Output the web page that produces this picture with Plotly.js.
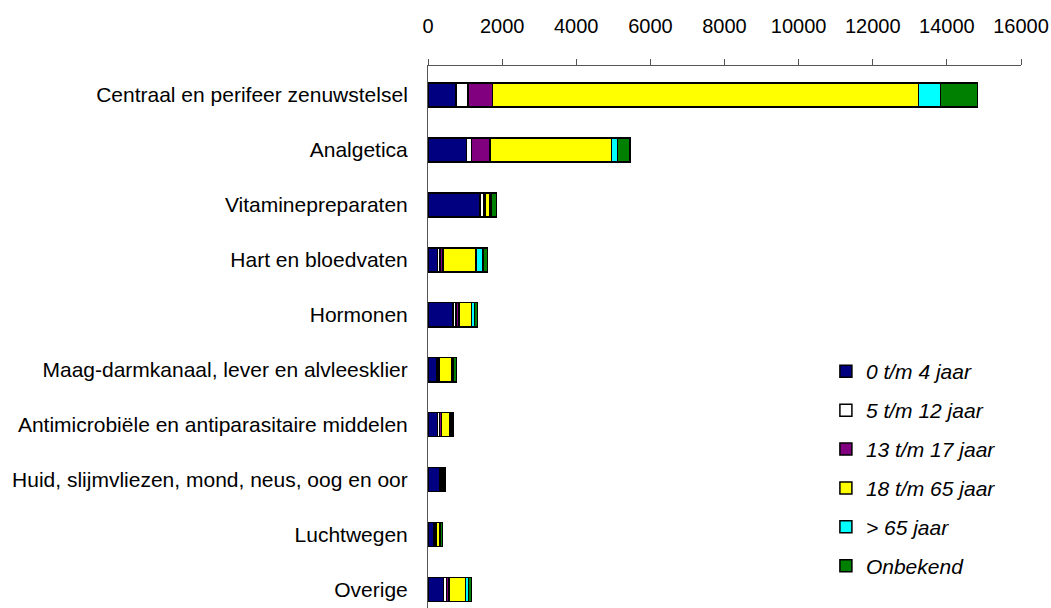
<!DOCTYPE html>
<html>
<head>
<meta charset="utf-8">
<script src="https://cdn.plot.ly/plotly-3.0.1.min.js"></script>
<style>html,body{margin:0;padding:0;background:#fff;}#chart{width:1051px;height:608px;}</style>
</head>
<body>
<div id="chart"></div>
<script>
const categories = [
  "Centraal en perifeer zenuwstelsel",
  "Analgetica",
  "Vitaminepreparaten",
  "Hart en bloedvaten",
  "Hormonen",
  "Maag-darmkanaal, lever en alvleesklier",
  "Antimicrobiële en antiparasitaire middelen",
  "Huid, slijmvliezen, mond, neus, oog en oor",
  "Luchtwegen",
  "Overige"
];
const seriesNames = ["0 t/m 4 jaar", "5 t/m 12 jaar", "13 t/m 17 jaar", "18 t/m 65 jaar", "> 65 jaar", "Onbekend"];
const age0to4   = [760, 1035, 1400, 260, 680, 240, 260, 330, 150, 420];
const age5to12  = [320, 145, 110, 60, 80, 30, 50, 50, 30, 80];
const age13to17 = [655, 495, 30, 80, 70, 40, 50, 20, 30, 70];
const age18to65 = [11500, 3280, 135, 900, 350, 330, 230, 40, 100, 440];
const age65plus = [595, 155, 20, 190, 80, 40, 30, 10, 20, 80];
const unknown   = [1000, 340, 150, 110, 80, 90, 60, 20, 60, 80];
const tickValues = [0, 2000, 4000, 6000, 8000, 10000, 12000, 14000, 16000];

const seriesValues = [age0to4, age5to12, age13to17, age18to65, age65plus, unknown];
const colors = ["#000080", "#ffffff", "#800080", "#ffff00", "#00ffff", "#008000"];

const FONT = "Liberation Sans, Arial, sans-serif";
const traces = seriesValues.map((vals, i) => ({
  type: "bar",
  orientation: "h",
  name: seriesNames[i],
  y: categories,
  x: vals,
  legendgroup: "g" + i,
  marker: {color: colors[i], line: {color: "#000000", width: 1.5}},
  hoverinfo: "x+name"
}));

const layout = {
  width: 1051, height: 608,
  margin: {l: 428, r: 30, t: 66, b: 0, pad: 0},
  paper_bgcolor: "#ffffff",
  plot_bgcolor: "#ffffff",
  barmode: "stack",
  bargap: 0.56,
  font: {family: FONT, size: 20, color: "#000000"},
  xaxis: {
    side: "top",
    range: [0, 16000],
    tickvals: tickValues,
    ticktext: tickValues.map(String),
    ticks: "outside", ticklen: 6, tickcolor: "#555555", tickwidth: 1,
    ticklabelstandoff: 18,
    showline: true, linecolor: "#555555", linewidth: 1,
    showgrid: false, zeroline: false,
    tickfont: {family: FONT, size: 20, color: "#000000"},
    fixedrange: true
  },
  yaxis: {
    type: "category",
    categoryorder: "array",
    categoryarray: categories,
    range: [9.34, -0.53],
    showline: true, linecolor: "#555555", linewidth: 1,
    ticks: "", ticklabelstandoff: 15,
    showgrid: false, zeroline: false,
    tickfont: {family: FONT, size: 21, color: "#000000"},
    fixedrange: true
  },
  showlegend: true,
  legend: {
    x: 0.671, xanchor: "left",
    y: 0.474, yanchor: "top",
    traceorder: "grouped",
    tracegroupgap: 8.6,
    bgcolor: "rgba(0,0,0,0)",
    font: {family: FONT, size: 21, color: "#000000", style: "italic"}
  }
};

Plotly.newPlot("chart", traces, layout, {displayModeBar: false, staticPlot: true});
</script>
</body>
</html>
